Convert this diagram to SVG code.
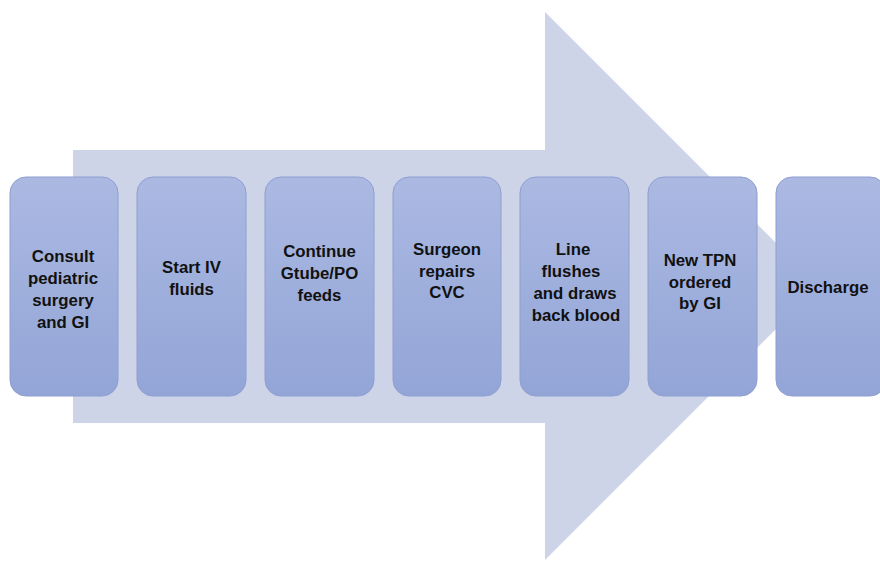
<svg xmlns="http://www.w3.org/2000/svg" width="880" height="561" viewBox="0 0 880 561">
<defs>
<linearGradient id="g" x1="0" y1="0" x2="0" y2="1">
<stop offset="0" stop-color="#abb9e2"/>
<stop offset="1" stop-color="#93a5d7"/>
</linearGradient>
<style>
.box{fill:url(#g);stroke:#8e9ed0;stroke-width:1}
.t{font-family:"Liberation Sans",Arial,sans-serif;font-weight:bold;font-size:16.8px;fill:#111;text-anchor:middle}
</style>
</defs>
<rect width="880" height="561" fill="#fff"/>
<g id="arrow">
<polygon points="73,150 545,150 545,12 819,286 545,560 545,423 73,423" fill="#cdd4e8"/>
</g>
<g id="n1"><rect class="box" x="10" y="177" width="108" height="219" rx="16"/>
<text class="t" x="63" y="262">Consult</text><text class="t" x="63" y="284">pediatric</text><text class="t" x="63" y="306">surgery</text><text class="t" x="63" y="328">and GI</text></g>
<g id="n2"><rect class="box" x="137" y="177" width="109" height="219" rx="16"/>
<text class="t" x="191.5" y="273">Start IV</text><text class="t" x="191.5" y="295">fluids</text></g>
<g id="n3"><rect class="box" x="265" y="177" width="109" height="219" rx="16"/>
<text class="t" x="319.5" y="257">Continue</text><text class="t" x="319.5" y="279">Gtube/PO</text><text class="t" x="319.5" y="301">feeds</text></g>
<g id="n4"><rect class="box" x="393" y="177" width="108" height="219" rx="16"/>
<text class="t" x="447" y="255">Surgeon</text><text class="t" x="447" y="277">repairs</text><text class="t" x="447" y="298">CVC</text></g>
<g id="n5"><rect class="box" x="520" y="177" width="109" height="219" rx="16"/>
<text class="t" x="573" y="255">Line</text><text class="t" x="571" y="277">flushes</text><text class="t" x="575" y="299">and draws</text><text class="t" x="576" y="321">back blood</text></g>
<g id="n6"><rect class="box" x="648" y="177" width="109" height="219" rx="16"/>
<text class="t" x="700" y="266">New TPN</text><text class="t" x="700" y="288">ordered</text><text class="t" x="700" y="309">by GI</text></g>
<g id="n7"><rect class="box" x="776" y="177" width="110" height="219" rx="16"/>
<text class="t" x="828" y="293">Discharge</text></g>
<g id="connectors"/>
</svg>
